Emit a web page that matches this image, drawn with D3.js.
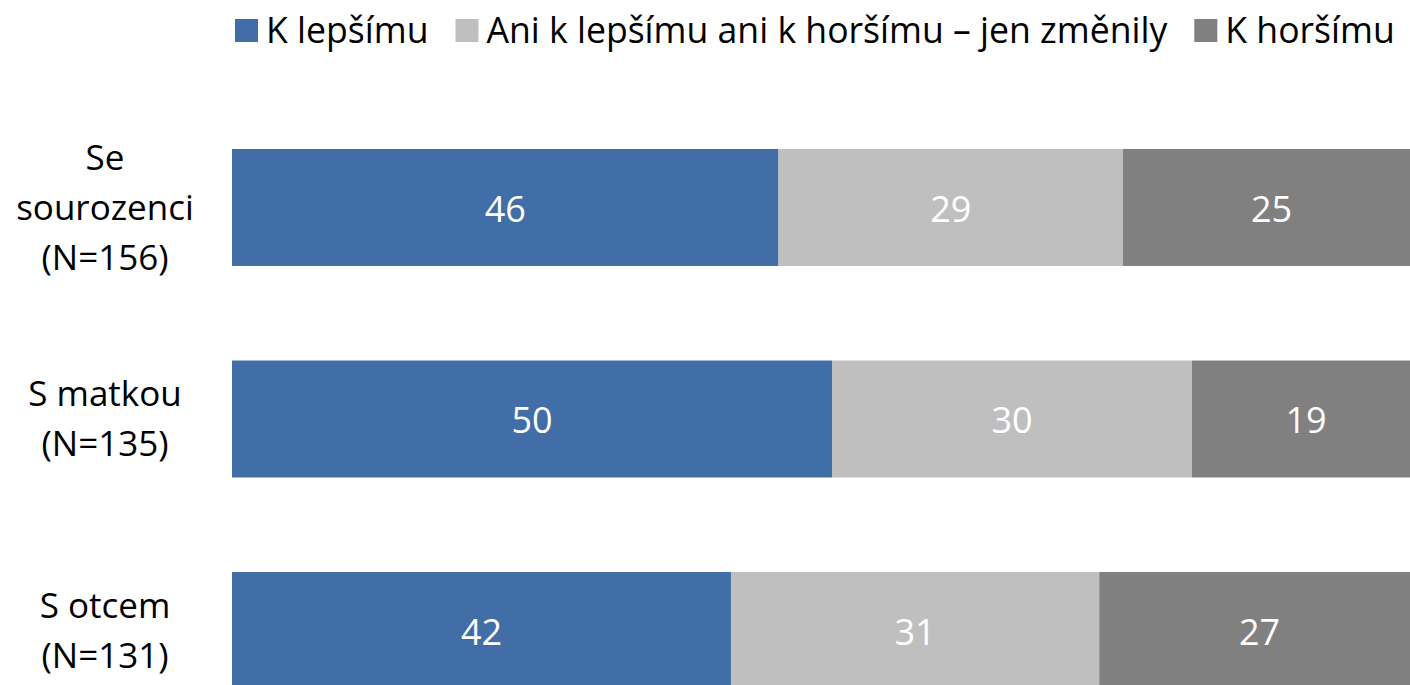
<!DOCTYPE html>
<html>
<head>
<meta charset="utf-8">
<script src="https://cdn.jsdelivr.net/npm/d3@7"></script>
<style>
  body { margin:0; background:#fff; }
  svg text { font-family: "Open Sans", "Noto Sans", sans-serif; }
</style>
</head>
<body>
<div id="canvas"></div>
<script>
// data
var categories = [['Se', 'sourozenci', '(N=156)'], ['S matkou', '(N=135)'], ['S otcem', '(N=131)']];
var seriesNames = ['K lepšímu', 'Ani k lepšímu ani k horšímu – jen změnily', 'K horšímu'];
var better = [46, 50, 42];
var same = [29, 30, 31];
var worse = [25, 19, 27];
var colors = ['#416ea6', '#bfbfbf', '#808080'];

var W = 1410, H = 685;
var fs = 35, fsVal = 36;

var svg = d3.select('#canvas').append('svg')
    .attr('width', W)
    .attr('height', H);

var keys = categories.map(function(c){ return c.join(' '); });
var rows = keys.map(function(k, i){
    return { key:k, lines:categories[i], vals:[better[i], same[i], worse[i]] };
});

// 100% stacked: each row is scaled to its own total
var x = d3.scaleLinear().domain([0, 1]).range([232, 1420]);
var y = d3.scaleBand().domain(keys).range([149, 689]).paddingInner(0.447).paddingOuter(0);

var g = svg.selectAll('g.row')
    .data(rows)
    .enter()
    .append('g')
    .attr('class', 'row');

g.each(function(d){
    var sel = d3.select(this);
    var total = d3.sum(d.vals);
    var acc = 0;
    d.vals.forEach(function(v, j){
        var x0 = x(acc / total), x1 = x((acc + v) / total);
        sel.append('rect')
            .attr('x', x0)
            .attr('y', y(d.key))
            .attr('width', x1 - x0)
            .attr('height', y.bandwidth())
            .style('fill', colors[j]);
        sel.append('text')
            .attr('x', (x0 + x1) / 2)
            .attr('y', y(d.key) + y.bandwidth() / 2)
            .attr('dy', '0.4em')
            .attr('text-anchor', 'middle')
            .style('fill', '#fff')
            .style('font-size', fsVal + 'px')
            .text(v);
        acc += v;
    });

    // category label
    var lh = 50;
    var n = d.lines.length;
    var cy = y(d.key) + y.bandwidth() / 2;
    d.lines.forEach(function(t, k){
        sel.append('text')
            .attr('x', 105)
            .attr('y', cy + (k - (n - 1) / 2) * lh)
            .attr('dy', '0.35em')
            .attr('text-anchor', 'middle')
            .style('fill', '#000')
            .style('font-size', fs + 'px')
            .text(t);
    });
});

// legend
var legend = svg.append('g').attr('class', 'legend');
var lx = 235;
seriesNames.forEach(function(name, j){
    legend.append('rect')
        .attr('x', lx)
        .attr('y', 19)
        .attr('width', 23)
        .attr('height', 23)
        .style('fill', colors[j]);
    var t = legend.append('text')
        .attr('x', lx + 31)
        .attr('y', 43)
        .style('fill', '#000')
        .style('font-size', '35.6px')
        .text(name);
    lx += 31 + t.node().getComputedTextLength() + 27;
});
</script>
</body>
</html>
